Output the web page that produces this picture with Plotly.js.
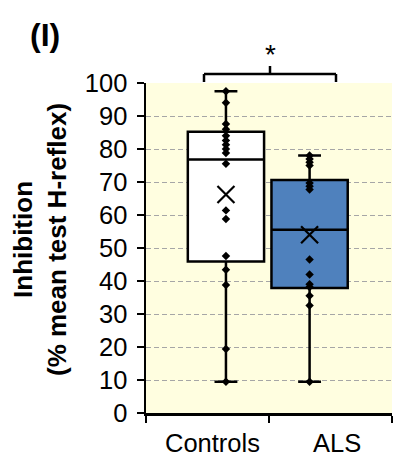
<!DOCTYPE html>
<html>
<head>
<meta charset="utf-8">
<script src="https://cdn.plot.ly/plotly-3.0.1.min.js"></script>
<style>
  html, body { margin: 0; padding: 0; background: #ffffff; }
  #chart { width: 393px; height: 461px; }
</style>
</head>
<body>
<div id="chart"></div>
<script>
// ---- data ----
const groups = ["Controls", "ALS"];
const q1Vals = [45.9, 37.9];
const medianVals = [76.8, 55.5];
const q3Vals = [85.2, 70.6];
const lowerVals = [9.5, 9.5];
const upperVals = [97.5, 78.0];
const meanVals = [66.2, 54.0];
const controlsPoints = [97.5, 94.0, 87.6, 86.0, 84.0, 82.6, 81.3, 80.0, 78.8, 75.5, 61.4, 58.8, 47.6, 43.4, 38.8, 19.4, 9.5];
const alsPoints = [78.0, 77.0, 76.0, 75.0, 69.7, 68.7, 67.7, 46.5, 42.0, 39.0, 38.2, 35.5, 32.6, 9.5];
const yTicks = [0, 10, 20, 30, 40, 50, 60, 70, 80, 90, 100];
const yTitle = "Inhibition<br>(% mean test H-reflex)";
const panelLabel = "(I)";
const sigLabel = "*";

// ---- layout constants ----
const boxPos = [0.15, 0.83];
const boxWidth = 0.62;
const fills = ["#ffffff", "#4F81BD"];
const allPoints = [controlsPoints, alsPoints];
const FONT = "Liberation Sans, Arial, sans-serif";

const traces = [];
groups.forEach((g, i) => {
  traces.push({
    type: "box",
    name: g,
    x: [boxPos[i]],
    q1: [q1Vals[i]],
    median: [medianVals[i]],
    q3: [q3Vals[i]],
    lowerfence: [lowerVals[i]],
    upperfence: [upperVals[i]],
    width: boxWidth,
    whiskerwidth: 0.3,
    fillcolor: fills[i],
    line: { color: "#000000", width: 2.5 },
    boxpoints: false,
    hoverinfo: "skip"
  });
});
groups.forEach((g, i) => {
  traces.push({
    type: "scatter",
    mode: "markers",
    x: allPoints[i].map(() => boxPos[i]),
    y: allPoints[i],
    marker: { symbol: "diamond", size: 6.5, color: "#000000" },
    cliponaxis: false,
    hoverinfo: "skip"
  });
  traces.push({
    type: "scatter",
    mode: "markers",
    x: [boxPos[i]],
    y: [meanVals[i]],
    marker: { symbol: "x-thin-open", size: 17, color: "#000000", line: { color: "#000000", width: 2.2 } },
    hoverinfo: "skip"
  });
});

// pixel -> paper helpers for decorations
const L = 146, W = 246, T = 83, H = 330;
const px = p => (p - L) / W;
const py = p => (T + H - p) / H;

const layout = {
  width: 393,
  height: 461,
  margin: { l: L, r: 393 - L - W, t: T, b: 461 - T - H, pad: 0 },
  paper_bgcolor: "#ffffff",
  plot_bgcolor: "#FFFEE0",
  showlegend: false,
  hovermode: false,
  boxmode: "overlay",
  font: { family: FONT, color: "#000000", size: 25 },
  xaxis: {
    range: [-0.5, 1.5],
    tickvals: [-0.5, 0.5, 1.5],
    ticktext: ["", "", ""],
    ticks: "outside",
    ticklen: 7,
    tickwidth: 2,
    tickcolor: "#000000",
    showline: true,
    linecolor: "#000000",
    linewidth: 2.5,
    showgrid: false,
    zeroline: false,
    fixedrange: true
  },
  yaxis: {
    range: [0, 100],
    tickvals: yTicks,
    ticktext: yTicks.map(String),
    ticks: "outside",
    ticklen: 7,
    tickwidth: 2,
    tickcolor: "#000000",
    ticklabelstandoff: 4,
    tickfont: { family: FONT, size: 25.5, color: "#000000" },
    showline: true,
    linecolor: "#000000",
    linewidth: 2.5,
    showgrid: true,
    gridcolor: "#A6A6A6",
    gridwidth: 1,
    griddash: "5px,3px",
    zeroline: false,
    fixedrange: true
  },
  shapes: [
    { type: "line", xref: "paper", yref: "paper", x0: px(204), x1: px(336), y0: py(74), y1: py(74), line: { color: "#000", width: 2.5 } },
    { type: "line", xref: "paper", yref: "paper", x0: px(204), x1: px(204), y0: py(74), y1: py(82), line: { color: "#000", width: 2.5 } },
    { type: "line", xref: "paper", yref: "paper", x0: px(336), x1: px(336), y0: py(74), y1: py(82), line: { color: "#000", width: 2.5 } },
    { type: "line", xref: "paper", yref: "paper", x0: px(270), x1: px(270), y0: py(66), y1: py(74), line: { color: "#000", width: 2.5 } }
  ],
  annotations: [
    { text: groups[0], xref: "paper", yref: "paper", x: px(212), y: py(443), xanchor: "center", yanchor: "middle", showarrow: false, font: { family: FONT, size: 25.5, color: "#000" } },
    { text: groups[1], xref: "paper", yref: "paper", x: px(337), y: py(443), xanchor: "center", yanchor: "middle", showarrow: false, font: { family: FONT, size: 25.5, color: "#000" } },
    { text: "<b>" + yTitle + "</b>", xref: "paper", yref: "paper", x: px(40), y: py(240), xanchor: "center", yanchor: "middle", textangle: -90, showarrow: false, font: { family: FONT, size: 26, color: "#000" } },
    { text: "<b>" + panelLabel + "</b>", xref: "paper", yref: "paper", x: px(45), y: py(35), xanchor: "center", yanchor: "middle", showarrow: false, font: { family: FONT, size: 32, color: "#000" } },
    { text: sigLabel, xref: "paper", yref: "paper", x: px(270), y: py(55), xanchor: "center", yanchor: "middle", showarrow: false, font: { family: FONT, size: 28, color: "#000" } }
  ]
};

Plotly.newPlot("chart", traces, layout, { staticPlot: true, displayModeBar: false });
</script>
</body>
</html>
